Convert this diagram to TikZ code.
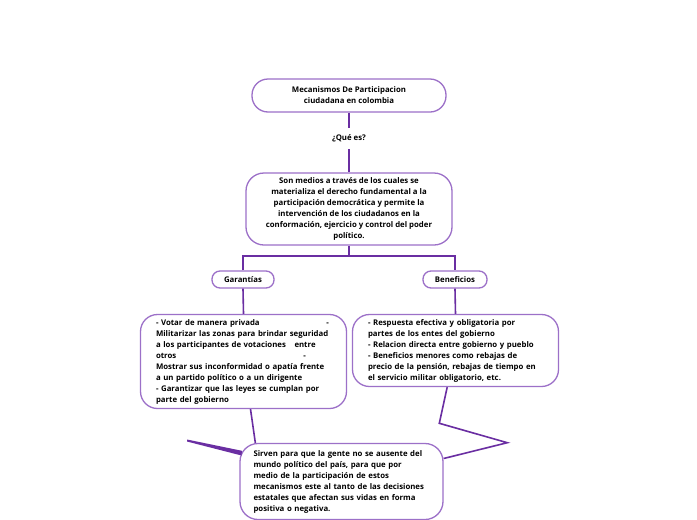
\documentclass[tikz,border=0pt]{standalone}
\usepackage{fontspec}
\setmainfont{Open Sans}
\usetikzlibrary{calc}
\definecolor{boxline}{HTML}{9C70C8}
\definecolor{conline}{HTML}{6A2EA2}
\begin{document}
\begin{tikzpicture}[x=1pt,y=-1pt,
  every node/.style={font=\fontsize{7.8}{11}\selectfont\bfseries, text=black},
  bx/.style={draw=boxline, line width=1.3pt, rounded corners=16pt, fill=white, inner sep=0pt},
  tag/.style={draw=boxline, line width=1.3pt, rounded corners=8pt, fill=white, inner sep=0pt, minimum width=62pt, minimum height=17pt},
  con/.style={draw=conline, line width=1.6pt}]
\useasboundingbox (0,0) rectangle (697,520);
\fill[white] (0,0) rectangle (697,520);

\node[bx, rounded corners=16pt, minimum width=194pt, minimum height=33pt, align=center] (b1) at (349,95.5)
  {Mecanismos De Participacion\\ciudadana en colombia};
\node[minimum height=21pt, inner sep=0pt] (q) at (349,138.5) {¿Qué es?};
\node[bx, rounded corners=18pt, minimum width=206pt, minimum height=72pt, align=center] (b2) at (349,209)
  {Son medios a través de los cuales se\\
   materializa el derecho fundamental a la\\
   participación democrática y permite la\\
   intervención de los ciudadanos en la\\
   conformación, ejercicio y control del poder\\
   político.};
\coordinate (j) at (349,256);
\node[tag] (gar) at (243,279.5) {Garantías};
\node[tag, minimum width=64pt] (ben) at (455,279.5) {Beneficios};

\node[bx, rounded corners=17pt, minimum width=206pt, minimum height=94pt, text width=175pt, align=left] (b3) at (243.5,361.5)
  {\makebox[173pt][l]{- Votar de manera privada\hfill-}\\
   Militarizar las zonas para brindar seguridad\\
   a los participantes de votaciones\hspace{6pt} entre\\
   \makebox[150pt][l]{otros\hfill-}\\
   Mostrar sus inconformidad o apatía frente\\
   a un partido político o a un dirigente\\
   - Garantizar que las leyes se cumplan por\\
   parte del gobierno};
\node[bx, rounded corners=17pt, minimum width=206pt, minimum height=72pt, text width=175pt, align=left] (b4) at (455.5,350.5)
  {- Respuesta efectiva y obligatoria por\\
   partes de los entes del gobierno\\
   - Relacion directa entre gobierno y pueblo\\
   - Beneficios menores como rebajas de\\
   precio de la pensión, rebajas de tiempo en\\
   el servicio militar obligatorio, etc.};
\node[bx, rounded corners=18pt, minimum width=203pt, minimum height=76pt, text width=176pt, align=left] (b5) at (341.5,481.5)
  {Sirven para que la gente no se ausente del\\
   mundo político del país, para que por\\
   medio de la participación de estos\\
   mecanismos este al tanto de las decisiones\\
   estatales que afectan sus vidas en forma\\
   positiva o negativa.};

% connectors
\draw[con] (b1.south) -- (q.north);
\draw[con] (q.south) -- (b2.north);
\draw[con] (b2.south) -- (j);
\draw[con] (gar.north) |- (j) -| (ben.north);
\draw[con] (gar.south) -- (b3.north);
\draw[con] (ben.south) -- (b4.north);
\draw[con] ($(b3.south)+(7,0)$) -- ($(b5.north west)+(16,0)$);
\coordinate (tl) at (187,440.5);
\fill[conline] ($(tl)+(0,-1)$) -- (242,450.8) -- (241.5,455.5) -- ($(tl)+(0,1)$) -- cycle;
\coordinate (k1) at (439.3,423.3);
\coordinate (k2) at (507.3,442.7);
\draw[con, line join=miter] ($(b4.south)+(-8.3,0)$) -- (k1) -- (k2) -- ($(b5.east)+(0,-23)$);
\end{tikzpicture}
\end{document}
